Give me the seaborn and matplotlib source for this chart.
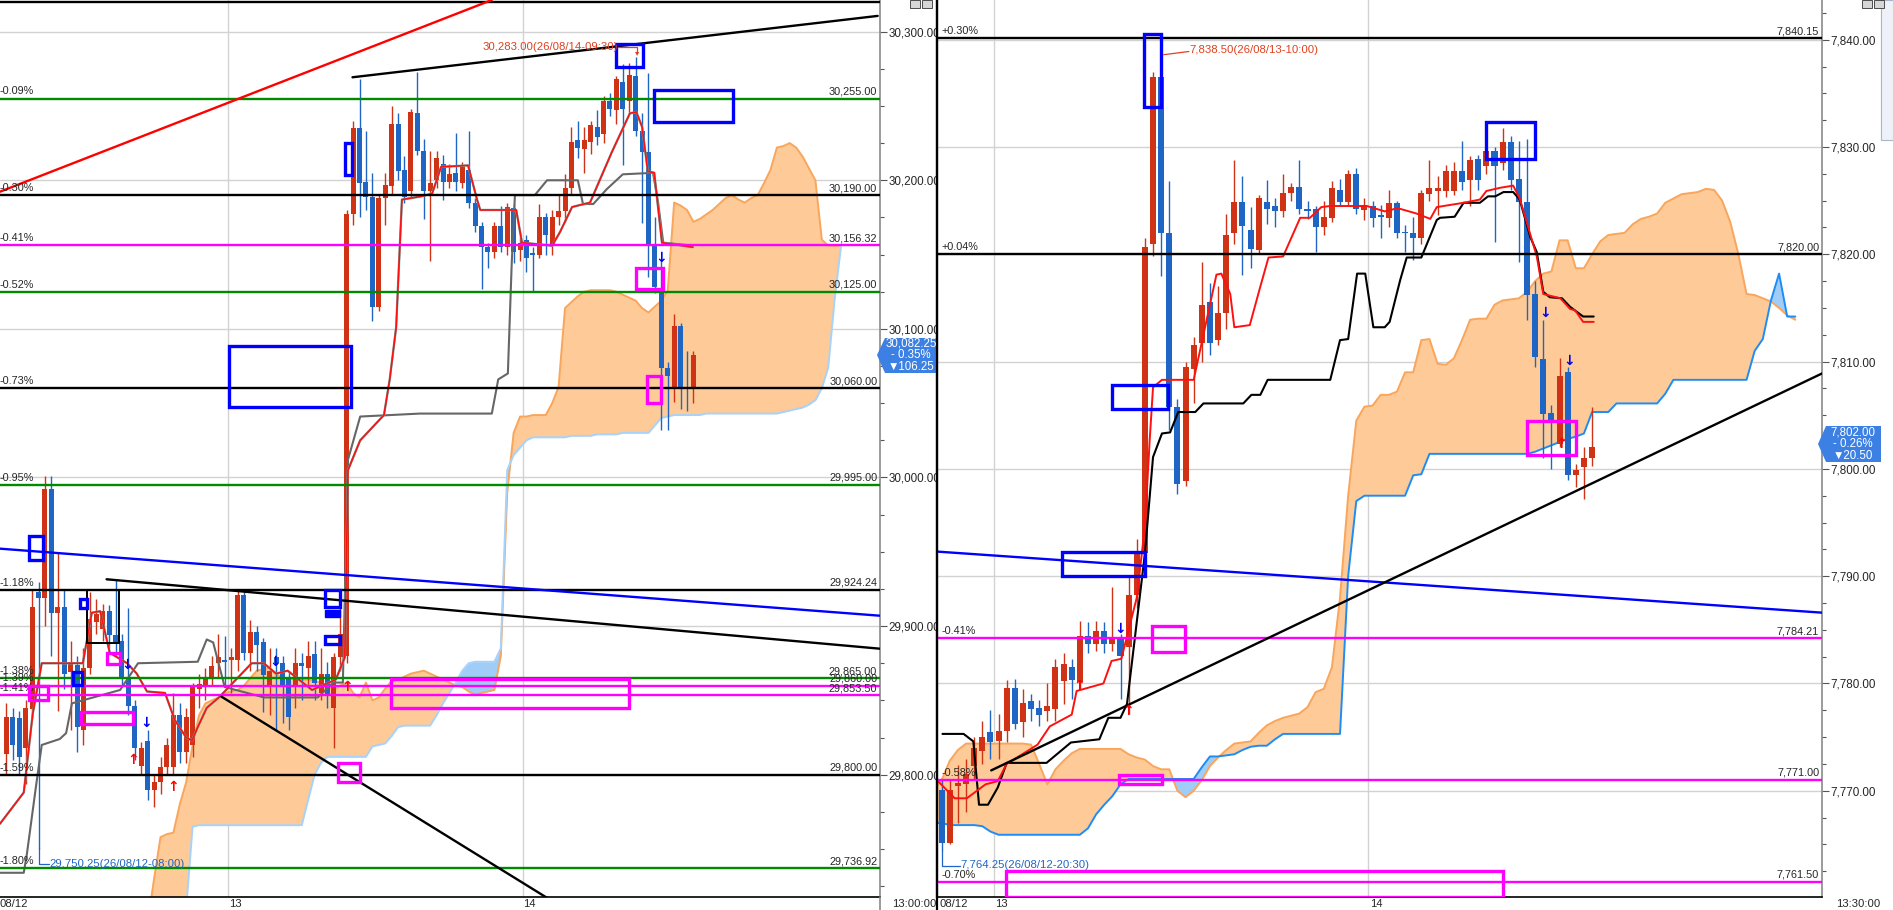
"""Two side-by-side Ichimoku candle panels (30-min bars) with drawn levels, trendlines and boxes."""

import numpy as np
import pandas as pd
import matplotlib
matplotlib.use("Agg")
import matplotlib.pyplot as plt
import matplotlib.transforms as mtransforms
from matplotlib.patches import Rectangle, Polygon
from matplotlib.ticker import MultipleLocator, FuncFormatter
import seaborn as sns

# ---------------------------------------------------------------- left panel data
# bar index 0 = first 30-min bar of the 13th ("13" gridline sits at -0.5)
L_START = -35
l_open = [29814, 29839, 29838, 29818, 29844, 29923, 29919, 29992, 29909, 29913,
          29869, 29874, 29830, 29872, 29903, 29898, 29910, 29894, 29890, 29866,
          29846, 29806, 29823, 29790, 29795, 29805, 29805, 29840, 29815, 29820,
          29858, 29859, 29866, 29875, 29877,
          29877, 29877, 29921, 29882, 29896, 29889, 29860, 29879, 29875, 29866,
          29859, 29875, 29872, 29881, 29855, 29868, 29845, 29879,
          29880, 30177, 30235, 30199, 30189, 30115, 30188, 30196, 30238, 30207,
          30193, 30245, 30220, 30193, 30200, 30211, 30199, 30205, 30198, 30207,
          30185, 30169, 30155, 30152, 30169, 30155, 30181, 30153, 30160, 30151,
          30150, 30175, 30156, 30175, 30179, 30195, 30227, 30221, 30226, 30236,
          30231, 30253, 30247, 30266, 30253, 30270, 30233, 30219, 30156, 30127,
          30074, 30060, 30102, 30061, 30060]
l_high = [29848, 29845, 29843, 29850, 29924, 29930, 30001, 30001, 29950, 29925,
          29890, 29880, 29885, 29923, 29918, 29915, 29914, 29931, 29895, 29912,
          29850, 29822, 29830, 29800, 29812, 29825, 29855, 29848, 29845, 29862,
          29868, 29872, 29880, 29895, 29893,
          29885, 29924, 29925, 29904, 29900, 29892, 29885, 29885, 29880, 29870,
          29885, 29882, 29890, 29890, 29885, 29876, 29882, 29920,
          30180, 30240, 30268, 30233, 30205, 30190, 30205, 30250, 30245, 30216,
          30248, 30273, 30228, 30220, 30220, 30217, 30211, 30232, 30212, 30233,
          30188, 30172, 30158, 30172, 30183, 30185, 30184, 30162, 30163, 30155,
          30184, 30178, 30180, 30190, 30204, 30236, 30240, 30236, 30240, 30247,
          30257, 30259, 30270, 30278, 30279, 30283, 30245, 30272, 30175, 30146,
          30078, 30110, 30104, 30085, 30085]
l_low = [29800, 29810, 29800, 29794, 29838, 29750.25, 29900, 29880, 29843, 29858,
         29830, 29815, 29820, 29868, 29895, 29890, 29885, 29880, 29860, 29840,
         29810, 29800, 29783, 29778, 29787, 29800, 29800, 29808, 29808, 29812,
         29845, 29850, 29860, 29865, 29860,
         29855, 29870, 29877, 29870, 29870, 29842, 29840, 29830, 29835, 29830,
         29845, 29850, 29860, 29850, 29850, 29845, 29818, 29870,
         29875, 30170, 30175, 30180, 30105, 30112, 30170, 30190, 30200, 30185,
         30188, 30217, 30174, 30146, 30195, 30187, 30195, 30193, 30195, 30181,
         30165, 30127, 30141, 30148, 30152, 30150, 30144, 30146, 30138, 30125,
         30148, 30150, 30150, 30170, 30172, 30190, 30215, 30205, 30218, 30224,
         30225, 30243, 30238, 30210, 30245, 30230, 30171, 30135, 30124, 30032,
         30032, 30051, 30046, 30045, 30050]
l_close = [29839, 29820, 29812, 29845, 29913, 29919, 29992, 29909, 29913, 29868,
           29875, 29832, 29872, 29905, 29908, 29910, 29894, 29889, 29865, 29846,
           29818, 29818, 29790, 29795, 29805, 29820, 29840, 29815, 29839, 29859,
           29861, 29866, 29873, 29879, 29876,
           29879, 29921, 29882, 29896, 29887, 29867, 29870, 29875, 29860, 29839,
           29875, 29873, 29880, 29862, 29868, 29854, 29879, 29895,
           30177, 30235, 30198, 30189, 30115, 30188, 30197, 30238, 30206, 30189,
           30246, 30220, 30193, 30198, 30215, 30199, 30204, 30199, 30209, 30185,
           30169, 30155, 30152, 30169, 30155, 30182, 30152, 30158, 30148, 30150,
           30175, 30163, 30175, 30179, 30195, 30226, 30222, 30227, 30237, 30229,
           30253, 30248, 30268, 30248, 30271, 30233, 30219, 30156, 30128, 30074,
           30068, 30102, 30060, 30060, 30082.25]

# cloud (leading spans) per bar, bars -14 .. 95
L_CLOUD_START = -14
l_span_a = [29690, 29700, 29730, 29758, 29760, 29761, 29780, 29795, 29820, 29840, 29848, 29850, 29852, 29855,
            29856, 29857, 29860, 29865, 29870, 29871, 29872, 29868, 29865, 29865,
            29864, 29864, 29864, 29863, 29862, 29860, 29857, 29860, 29862, 29855,
            29852, 29862, 29850, 29852, 29858, 29863, 29864, 29866, 29868, 29869,
            29870, 29868, 29866, 29864, 29862, 29860, 29859, 29856, 29854, 29855,
            29856, 29857, 29880, 29990, 30030, 30041, 30041, 30042, 30042, 30042,
            30050, 30061, 30114, 30118, 30122, 30125, 30126, 30126, 30126, 30126,
            30125, 30123, 30121, 30119, 30114, 30111, 30115, 30119, 30126, 30185,
            30183, 30180, 30172, 30174, 30177, 30180, 30184, 30188, 30190, 30187,
            30185, 30188, 30190, 30198, 30207, 30222, 30223, 30225, 30222, 30216,
            30208, 30200, 30160, 30156, 30156, 30156]
l_span_b = [29680, 29685, 29690, 29695, 29698, 29700, 29705, 29710, 29765, 29766, 29766, 29766, 29766, 29766,
            29766, 29766, 29766, 29766, 29766, 29766, 29766, 29766, 29766, 29766,
            29766, 29766, 29783, 29800, 29808, 29812, 29812, 29812, 29812, 29812,
            29812, 29812, 29819, 29820, 29821, 29826, 29832, 29833, 29833, 29833,
            29833, 29833, 29840, 29848, 29855, 29862, 29870, 29875, 29876, 29876,
            29876, 29876, 29885, 30005, 30015, 30020, 30025, 30027, 30027, 30027,
            30027, 30027, 30027, 30028, 30028, 30028, 30028, 30029, 30029, 30029,
            30029, 30030, 30030, 30030, 30030, 30030, 30035, 30040, 30041, 30042,
            30042, 30042, 30042, 30042, 30043, 30043, 30043, 30043, 30043, 30043,
            30043, 30043, 30043, 30043, 30043, 30043, 30044, 30045, 30046, 30047,
            30049, 30052, 30060, 30074, 30120, 30156]

l_tenkan_x = [-36.0, -32.3, -30.9, -29.5, -23.1, -21.7, -20.4, -18.9, -16.2, -14.7, -13.1, -10.3, -8.8,
              -7.0, -6.1, -5.2, -3.8, -1.9, 3.2, 5.1, 7.0, 8.8, 12.6, 16.3, 17.7, 18.2, 20.1, 23.8,
              24.7, 25.7, 26.6, 29.4, 31.3, 32.7, 36.9, 38.3, 38.8, 44.4, 45.3, 50.0, 51.2, 53.1,
              55.9, 59.3, 62.1, 63.1, 64.0, 64.9, 65.9, 67.1, 71.9]
l_tenkan = [29767, 29788, 29841, 29875, 29875, 29909, 29910, 29882, 29875, 29868, 29856, 29855, 29837,
            29825, 29823, 29832, 29845, 29852, 29875, 29875, 29868, 29870, 29857, 29864, 29879, 30005,
            30025, 30042, 30066, 30101, 30187, 30189, 30191, 30209, 30210, 30187, 30180, 30180, 30158,
            30156, 30165, 30182, 30185, 30219, 30245, 30246, 30236, 30206, 30205, 30158, 30155]
l_kijun_x = [-36.0, -32.3, -31.8, -30.4, -29.5, -26.7, -25.7, -24.8, -17.3, -14.5, -5.2, -3.8, -2.8,
             -1.0, 5.1, 13.5, 15.9, 17.4, 18.2, 20.1, 29.4, 40.6, 41.6, 43.1, 43.7, 44.2, 47.3, 49.2,
             54.0, 54.8, 56.4, 58.5, 61.0, 65.7, 66.5, 67.3, 71.9]
l_kijun = [29734, 29734, 29747, 29792, 29820, 29824, 29828, 29848, 29857, 29875, 29876, 29891, 29889,
           29859, 29852, 29852, 29862, 29862, 30012, 30041, 30043, 30043, 30066, 30070, 30144, 30190,
           30190, 30200, 30200, 30184, 30184, 30194, 30204, 30205, 30185, 30158, 30156]

l_levels = [30255.00, 30190.00, 30156.32, 30125.00, 30060.00, 29995.00, 29924.24,
            29865.00, 29860.00, 29853.50, 29800.00, 29736.92]
l_level_pct = ["-0.09%", "-0.30%", "-0.41%", "-0.52%", "-0.73%", "-0.95%", "-1.18%",
               "-1.38%", "-1.39%", "-1.41%", "-1.59%", "-1.80%"]
l_level_kind = ["g", "k", "m", "g", "k", "g", "k", "g", "m", "m", "k", "g"]

# trendlines: (x0, v0, x1, v1, kind)
l_trends = [(-36.0, 30192.3, 40.6, 30321.3, "r"),
            (18.9, 30269.3, 100.7, 30310.6, "k"),
            (-36.0, 29952.1, 101.0, 29907.0, "b"),
            (-19.4, 29931.5, 101.0, 29884.8, "k"),
            (-1.5, 29852.5, 50.0, 29715.0, "k")]
# boxes: (x0, x1, v0, v1)
l_blue_boxes = [(-0.3, 18.7, 30047.6, 30088.5), (65.8, 78.1, 30239.5, 30260.8),
                (60.0, 64.1, 30276.4, 30291.5), (17.8, 18.9, 30203.6, 30224.9),
                (-31.5, -29.3, 29944.4, 29960.6), (-24.6, -23.3, 29860.4, 29869.3),
                (-23.5, -22.4, 29912.0, 29918.0), (14.6, 16.9, 29913.1, 29924.0),
                (14.6, 16.9, 29887.7, 29893.3)]
l_blue_filled = [(14.6, 16.9, 29905.9, 29910.7)]
l_magenta_boxes = [(63.0, 67.2, 30126.6, 30141.0), (64.8, 66.9, 30050.4, 30068.0),
                   (24.9, 62.0, 29844.7, 29864.6), (16.7, 20.0, 29795.3, 29808.0),
                   (-23.4, -15.3, 29834.1, 29842.4), (-19.4, -17.3, 29874.5, 29881.7),
                   (-31.5, -28.5, 29850.5, 29859.7)]
l_black_boxes = [(-22.4, -17.4, 29888.4, 29924.0)]
l_sig_down = [(67.0, 30147.5), (-16.2, 29874.0), (6.9, 29876.0), (-13.3, 29834.8)]
l_sig_up = [(-15.3, 29809.9), (-9.1, 29791.9), (18.0, 29858.8)]

# ---------------------------------------------------------------- right panel data
R_START = -7
r_open = [7770.1, 7765.1, 7770.4, 7770.6, 7772.3, 7773.7, 7775.5,
          7774.6, 7775.6, 7779.6, 7776.4, 7778.4, 7777.7, 7777.4, 7777.6, 7780.2, 7781.5,
          7780.1, 7784.4, 7783.7, 7784.9, 7783.7, 7784.2, 7783.4, 7788.2, 7792.2, 7821.0,
          7836.5, 7822.0, 7805.8, 7798.9, 7809.3, 7811.7, 7815.6, 7812.0, 7814.5, 7822.0,
          7824.9, 7822.3, 7820.4, 7824.9, 7824.5, 7824.0, 7825.7, 7826.3, 7824.2, 7824.2,
          7822.5, 7823.4, 7826.0, 7824.9, 7827.5, 7824.1, 7824.5, 7823.7, 7823.4, 7824.8,
          7822.1, 7822.0, 7821.5, 7825.6, 7825.9, 7825.9, 7825.9, 7827.8, 7826.9, 7828.9,
          7828.2, 7829.6, 7828.5, 7830.5, 7827.0, 7824.9, 7816.3, 7810.2, 7805.2, 7802.3,
          7809.0, 7799.4, 7800.2, 7801.0]
r_high = [7771.0, 7771.0, 7772.4, 7773.0, 7775.0, 7776.5, 7777.5,
          7777.2, 7780.3, 7780.4, 7779.5, 7779.0, 7778.5, 7780.0, 7782.3, 7782.8, 7782.3,
          7785.8, 7785.7, 7785.8, 7785.7, 7789.0, 7784.6, 7789.9, 7793.5, 7821.5, 7837.0,
          7838.5, 7826.8, 7806.5, 7810.0, 7812.3, 7819.3, 7817.3, 7817.0, 7823.8, 7828.8,
          7827.3, 7824.4, 7825.5, 7826.9, 7825.2, 7827.5, 7826.6, 7828.8, 7825.0, 7824.5,
          7825.0, 7826.8, 7827.0, 7827.9, 7828.0, 7825.2, 7825.0, 7824.6, 7826.0, 7825.0,
          7822.7, 7823.5, 7826.0, 7828.8, 7827.3, 7828.3, 7828.6, 7830.6, 7829.2, 7829.3,
          7830.2, 7830.0, 7831.8, 7831.0, 7830.6, 7830.7, 7817.5, 7813.9, 7806.0, 7810.3,
          7809.5, 7800.5, 7802.0, 7805.8]
r_low = [7764.25, 7765.0, 7767.0, 7768.0, 7771.0, 7772.5, 7773.0,
         7773.0, 7774.5, 7775.8, 7775.0, 7776.5, 7776.0, 7776.5, 7776.5, 7778.1, 7778.6,
         7779.5, 7782.8, 7783.0, 7782.8, 7783.0, 7778.6, 7777.2, 7787.0, 7791.0, 7819.8,
         7818.0, 7803.6, 7797.7, 7798.4, 7806.1, 7810.0, 7810.6, 7811.5, 7813.0, 7821.0,
         7818.1, 7818.7, 7820.0, 7822.8, 7822.5, 7823.5, 7825.0, 7823.8, 7823.3, 7820.2,
         7821.8, 7823.0, 7824.5, 7824.5, 7823.8, 7823.2, 7822.5, 7821.5, 7822.5, 7821.5,
         7820.2, 7819.5, 7821.0, 7825.0, 7823.7, 7825.3, 7825.5, 7826.0, 7824.5, 7826.0,
         7827.5, 7821.1, 7827.9, 7826.0, 7819.3, 7813.9, 7809.5, 7801.0, 7800.0, 7802.0,
         7799.0, 7798.3, 7797.2, 7800.3]
r_close = [7765.1, 7770.1, 7770.7, 7771.6, 7774.0, 7775.0, 7774.5,
           7775.6, 7779.6, 7776.2, 7778.2, 7777.6, 7777.1, 7777.9, 7781.5, 7781.8, 7780.3,
           7784.4, 7783.7, 7784.9, 7783.7, 7784.1, 7782.6, 7788.2, 7792.1, 7820.7, 7836.5,
           7822.0, 7805.8, 7798.6, 7809.5, 7811.5, 7815.3, 7811.7, 7814.5, 7821.8, 7824.9,
           7822.6, 7820.5, 7825.2, 7824.2, 7824.0, 7825.7, 7826.3, 7824.2, 7824.0, 7822.5,
           7823.5, 7826.2, 7824.9, 7827.5, 7824.2, 7824.6, 7823.4, 7823.5, 7824.8, 7822.0,
           7822.0, 7821.5, 7825.7, 7826.2, 7826.2, 7827.8, 7827.8, 7826.7, 7828.8, 7826.9,
           7829.6, 7828.2, 7830.5, 7826.9, 7824.9, 7816.2, 7810.4, 7805.1, 7804.5, 7808.7,
           7799.4, 7799.9, 7801.0, 7802.0]

R_CLOUD_START = -8
r_span_a = [7770.0, 7771.0, 7772.8, 7773.8, 7774.4, 7774.4, 7774.4, 7774.4,
            7774.4, 7774.4, 7774.4, 7774.4, 7774.3, 7772.5, 7770.6, 7772.0, 7772.8, 7773.5,
            7773.9, 7773.9, 7773.9, 7773.9, 7773.9, 7773.9, 7773.4, 7773.1, 7772.9, 7772.3,
            7772.0, 7772.0, 7770.0, 7769.4, 7770.0, 7771.0, 7772.3, 7773.1, 7773.8, 7774.4,
            7774.5, 7774.6, 7775.4, 7776.1, 7776.5, 7776.8, 7777.0, 7777.2, 7777.8, 7779.2,
            7779.5, 7781.5, 7788.0, 7797.5, 7804.5, 7805.8, 7805.9, 7806.9, 7806.9, 7807.2,
            7809.0, 7809.0, 7812.0, 7812.1, 7809.8, 7809.7, 7810.3, 7812.0, 7813.9, 7814.0,
            7814.0, 7815.3, 7815.7, 7815.8, 7815.9, 7816.5, 7817.5, 7818.2, 7818.4, 7821.3,
            7821.3, 7818.7, 7818.7, 7820.0, 7821.2, 7821.8, 7821.9, 7822.0, 7822.8, 7823.3,
            7823.5, 7823.8, 7824.8, 7825.2, 7825.6, 7825.7, 7825.8, 7826.1, 7826.0, 7825.0,
            7823.0, 7820.0, 7816.3, 7816.2, 7815.9, 7815.6, 7815.0, 7814.3, 7813.9]
r_span_b = [7767.0, 7767.0, 7766.8, 7766.8, 7766.8, 7766.8, 7766.7, 7766.2,
            7765.9, 7765.9, 7765.9, 7765.9, 7765.9, 7765.9, 7765.9, 7765.9, 7765.9, 7765.9,
            7765.9, 7766.5, 7767.8, 7768.7, 7769.5, 7770.6, 7771.1, 7771.1, 7771.1, 7771.1,
            7771.1, 7771.1, 7771.1, 7771.1, 7771.1, 7772.2, 7773.2, 7773.2, 7773.3, 7773.4,
            7773.8, 7774.1, 7774.2, 7774.2, 7774.8, 7775.3, 7775.3, 7775.3, 7775.3, 7775.3,
            7775.3, 7775.3, 7775.3, 7790.0, 7797.0, 7797.5, 7797.5, 7797.5, 7797.5, 7797.5,
            7797.5, 7799.4, 7799.5, 7801.4, 7801.4, 7801.4, 7801.4, 7801.4, 7801.4, 7801.4,
            7801.4, 7801.4, 7801.4, 7801.4, 7801.4, 7801.4, 7801.6, 7801.9, 7802.2, 7802.5,
            7802.8, 7803.0, 7803.3, 7805.3, 7805.3, 7805.3, 7806.1, 7806.1, 7806.1, 7806.1,
            7806.1, 7806.1, 7807.0, 7808.3, 7808.3, 7808.3, 7808.3, 7808.3, 7808.3, 7808.3,
            7808.3, 7808.3, 7808.3, 7811.0, 7812.1, 7815.7, 7818.2, 7814.2, 7814.2]

r_tenkan_x = [-7.7, -5.4, -3.9, -1.6, -0.1, 1.0, 4.8, 6.3, 9.0, 9.6, 12.9, 13.9, 15.1, 17.0, 17.8,
              18.2, 18.6, 19.0, 20.1, 24.0, 24.8, 26.8, 27.4, 28.5, 29.0, 30.9, 32.2, 33.2, 35.0,
              37.1, 38.3, 39.7, 40.8, 45.3, 47.5, 49.1, 51.4, 53.1, 53.9, 57.2, 59.2, 60.0, 61.7,
              63.3, 64.1, 66.2, 67.0, 69.1, 70.3, 70.9, 71.9, 73.2]
r_tenkan = [7771.1, 7769.3, 7769.3, 7770.6, 7770.9, 7772.5, 7774.3, 7776.0, 7777.1, 7779.3, 7780.0,
            7782.1, 7782.3, 7788.0, 7793.3, 7797.4, 7802.8, 7807.6, 7808.3, 7808.3, 7811.1, 7818.1,
            7818.2, 7816.3, 7813.2, 7813.4, 7817.0, 7819.7, 7819.8, 7823.4, 7823.4, 7824.4, 7824.5,
            7824.5, 7824.0, 7824.3, 7823.8, 7823.3, 7824.4, 7824.8, 7825.1, 7825.9, 7826.2, 7826.4,
            7825.2, 7819.8, 7816.3, 7815.9, 7814.9, 7814.8, 7813.7, 7813.7]
r_kijun_x = [-6.9, -4.3, -3.1, -2.4, -1.3, -0.1, 1.0, 5.9, 8.9, 12.4, 13.5, 15.0, 15.8, 18.0, 19.0,
             20.1, 21.1, 22.1, 24.2, 25.2, 30.1, 31.1, 32.2, 33.1, 40.8, 42.0, 43.0, 44.1, 45.1,
             46.1, 47.5, 48.1, 49.4, 50.2, 52.0, 53.9, 54.3, 56.1, 57.2, 59.2, 60.2, 61.1, 62.1,
             63.3, 64.1, 65.4, 66.2, 67.0, 67.8, 69.3, 70.3, 71.9, 73.2]
r_kijun = [7775.3, 7775.3, 7774.6, 7768.7, 7768.7, 7770.3, 7772.6, 7772.6, 7774.5, 7774.8, 7776.8,
           7776.8, 7778.1, 7792.1, 7801.1, 7803.3, 7803.4, 7805.3, 7805.3, 7806.1, 7806.1, 7806.9,
           7806.9, 7808.3, 7808.3, 7812.0, 7812.1, 7818.2, 7818.2, 7813.2, 7813.2, 7813.7, 7817.6,
           7819.7, 7819.7, 7823.2, 7823.4, 7823.5, 7824.8, 7824.8, 7825.4, 7825.4, 7825.8, 7825.8,
           7825.1, 7821.6, 7820.2, 7816.5, 7816.0, 7815.9, 7815.1, 7814.2, 7814.2]

r_levels = [7840.15, 7820.00, 7784.21, 7771.00, 7761.50]
r_level_pct = ["+0.30%", "+0.04%", "-0.41%", "-0.58%", "-0.70%"]
r_level_kind = ["k", "k", "m", "m", "m"]
r_trends = [(-7.7, 7792.3, 101.3, 7786.6, "b"),
            (-0.9, 7771.9, 101.3, 7808.9, "k")]
r_blue_boxes = [(17.9, 20.0, 7833.7, 7840.5), (59.9, 66.0, 7828.9, 7832.3),
                (13.9, 20.9, 7805.6, 7807.8), (7.8, 18.0, 7790.0, 7792.3)]
r_magenta_boxes = [(65.0, 71.0, 7801.3, 7804.5), (18.9, 22.9, 7782.9, 7785.4),
                   (14.8, 20.1, 7770.6, 7771.5), (0.9, 62.0, 7760.1, 7762.5)]
r_sig_down = [(15.0, 7785.1), (67.2, 7814.5), (70.2, 7810.1)]
r_sig_up = [(9.9, 7779.8), (15.9, 7777.4), (69.2, 7802.3)]

# ---------------------------------------------------------------- style
sns.set_style("white")
plt.rcParams["font.family"] = ["Liberation Sans", "DejaVu Sans"]

RED = "#cf3214"
BLUE = "#1f66c4"
KIND = {"g": "#008a00", "k": "#000000", "m": "#ff00ff", "b": "#0000ff", "r": "#ff0000"}
CLOUD_FILL = "#fdca98"
CLOUD_EDGE = "#f9a65c"
BLUE_FILL = "#9fcdf7"
FS = 7.8

W, H = 1893, 910
fig = plt.figure(figsize=(W / 100, H / 100), dpi=100)
fig.patch.set_facecolor("white")
ax1 = fig.add_axes([0, 13 / H, 880 / W, 897 / H])
ax2 = fig.add_axes([937 / W, 13 / H, 885 / W, 897 / H])


def draw_cloud(ax, start, a, b, edge_b):
    x = np.arange(start, start + len(a))
    a = np.asarray(a, float)
    b = np.asarray(b, float)
    ax.fill_between(x, a, b, where=a >= b, interpolate=True, color=CLOUD_FILL, lw=0, zorder=1)
    ax.fill_between(x, a, b, where=a < b, interpolate=True, color=BLUE_FILL, lw=0, zorder=1)
    sns.lineplot(x=x, y=a, ax=ax, color=CLOUD_EDGE, lw=1.4, zorder=2)
    sns.lineplot(x=x, y=b, ax=ax, color=edge_b, lw=1.4, zorder=2)


def draw_candles(ax, start, o, h, l, c, width, min_h):
    o, h, l, c = (np.asarray(v, float) for v in (o, h, l, c))
    x = np.arange(start, start + len(o))
    col = np.where(c >= o, RED, BLUE)
    ax.vlines(x, l, h, colors=col, lw=1.0, zorder=3)
    ax.bar(x, np.maximum(np.abs(c - o), min_h), bottom=np.minimum(o, c),
           width=width, color=col, lw=0, zorder=4)


def draw_levels(ax, levels, pcts, kinds, pct_dx):
    tr = mtransforms.blended_transform_factory(ax.transAxes, ax.transData)
    for v, p, k in zip(levels, pcts, kinds):
        ax.axhline(v, color=KIND[k], lw=1.7, zorder=6)
        ax.annotate(p, xy=(0, v), xycoords=tr, xytext=(pct_dx, 1.5), textcoords="offset points",
                    ha="left", va="bottom", fontsize=FS, zorder=7)
        ax.annotate(f"{v:,.2f}", xy=(1, v), xycoords=tr, xytext=(-2, 1.5),
                    textcoords="offset points", ha="right", va="bottom", fontsize=FS, zorder=7)


def draw_boxes(ax, boxes, color, lw, fill=False):
    for x0, x1, v0, v1 in boxes:
        ax.add_patch(Rectangle((x0, v0), x1 - x0, v1 - v0, fill=fill, facecolor=color,
                               edgecolor=color, lw=lw, zorder=8))


def draw_signals(ax, downs, ups):
    for x, v in downs:
        ax.text(x, v, "\u2193", color="#0000ee", fontsize=10, fontweight="bold",
                family="DejaVu Sans", ha="center", va="center", zorder=9)
    for x, v in ups:
        ax.text(x, v, "\u2191", color="#ff0000", fontsize=10, fontweight="bold",
                family="DejaVu Sans", ha="center", va="center", zorder=9)


def style_axis(ax, major, minor, left_spine):
    ax.yaxis.tick_right()
    ax.yaxis.set_major_locator(MultipleLocator(major))
    ax.yaxis.set_minor_locator(MultipleLocator(minor))
    ax.yaxis.set_major_formatter(FuncFormatter(lambda v, p: f"{v:,.2f}"))
    ax.tick_params(axis="y", which="major", length=5, width=0.8, color="#555555",
                   labelsize=8.4, pad=1)
    ax.tick_params(axis="y", which="minor", length=3, width=0.8, color="#555555")
    ax.set_xticks([])
    ax.grid(axis="y", which="major", color="#d2d2d2", lw=1.0, zorder=0)
    ax.set_axisbelow(True)
    for gx in (-0.5, 45.5):
        ax.axvline(gx, color="#d2d2d2", lw=1.0, zorder=0)
    ax.spines["top"].set_visible(False)
    ax.spines["left"].set_visible(left_spine)
    ax.spines["left"].set_color("black")
    ax.spines["left"].set_linewidth(1.6)
    ax.spines["right"].set_color("#8a8a8a")
    ax.spines["right"].set_linewidth(1.2)
    ax.spines["bottom"].set_color("black")
    ax.spines["bottom"].set_linewidth(1.2)
    ax.set_xlabel("")
    ax.set_ylabel("")


# ---------------------------------------------------------------- left panel
draw_cloud(ax1, L_CLOUD_START, l_span_a, l_span_b, "#a6d2fb")
draw_candles(ax1, L_START, l_open, l_high, l_low, l_close, 0.78, 0.9)
tenk = pd.DataFrame({"x": l_tenkan_x, "v": l_tenkan})
kij = pd.DataFrame({"x": l_kijun_x, "v": l_kijun})
sns.lineplot(data=kij, x="x", y="v", ax=ax1, color="#666666", lw=1.5, sort=False, zorder=5)
sns.lineplot(data=tenk, x="x", y="v", ax=ax1, color="#6aaeaa", lw=1.7, sort=False, zorder=5)
sns.lineplot(data=tenk, x="x", y="v", ax=ax1, color="#ff1010", lw=1.2, sort=False, zorder=5)
ax1.axhline(30320, color="black", lw=1.7, zorder=6)
draw_levels(ax1, l_levels, l_level_pct, l_level_kind, 0)
for x0, v0, x1, v1, k in l_trends:
    ax1.plot([x0, x1], [v0, v1], color=KIND[k], lw=1.7, zorder=6)
draw_boxes(ax1, l_black_boxes, "black", 1.4)
draw_boxes(ax1, l_blue_boxes, "#0000ff", 2.4)
draw_boxes(ax1, l_blue_filled, "#0000ff", 1.0, fill=True)
draw_boxes(ax1, l_magenta_boxes, "#ff00ff", 2.4)
draw_signals(ax1, l_sig_down, l_sig_up)

# high / low markers
ax1.plot([60.3, 63.2, 63.2], [30289.5, 30289.5, 30285.5], color="#e04020", lw=0.9, zorder=9)
ax1.text(63.2, 30286, "\u25be", color="#e04020", fontsize=6, family="DejaVu Sans",
         ha="center", va="center", zorder=9)
ax1.text(60.2, 30289.5, "30,283.00(26/08/14-09:30)", color="#e04020", fontsize=FS + 0.4,
         ha="right", va="center", zorder=9)
ax1.plot([-30.0, -30.0, -28.4], [29751, 29740, 29740], color="#1f66c4", lw=0.9, zorder=9)
ax1.text(-28.3, 29740, "29,750.25(26/08/12-08:00)", color="#1f66c4", fontsize=FS + 0.4,
         ha="left", va="center", zorder=9)

style_axis(ax1, 100, 25, False)
ax1.set_xlim(-36.0, 101.06)
ax1.set_ylim(29717.7, 30321.3)

# ---------------------------------------------------------------- right panel
draw_cloud(ax2, R_CLOUD_START, r_span_a, r_span_b, "#1f8cf5")
draw_candles(ax2, R_START, r_open, r_high, r_low, r_close, 0.74, 0.12)
rt = pd.DataFrame({"x": r_tenkan_x, "v": r_tenkan})
rk = pd.DataFrame({"x": r_kijun_x, "v": r_kijun})
sns.lineplot(data=rk, x="x", y="v", ax=ax2, color="black", lw=1.5, sort=False, zorder=5)
sns.lineplot(data=rt, x="x", y="v", ax=ax2, color="#ff1010", lw=1.4, sort=False, zorder=5)
draw_levels(ax2, r_levels, r_level_pct, r_level_kind, 3)
for x0, v0, x1, v1, k in r_trends:
    ax2.plot([x0, x1], [v0, v1], color=KIND[k], lw=1.7, zorder=6)
draw_boxes(ax2, r_blue_boxes, "#0000ff", 2.4)
draw_boxes(ax2, r_magenta_boxes, "#ff00ff", 2.4)
draw_signals(ax2, r_sig_down, r_sig_up)

ax2.plot([20.3, 23.4], [7838.6, 7838.9], color="#e04020", lw=0.9, zorder=9)
ax2.text(23.5, 7839.0, "7,838.50(26/08/13-10:00)", color="#e04020", fontsize=FS + 0.4,
         ha="left", va="center", zorder=9)
ax2.plot([-7.0, -7.0, -4.8], [7764.3, 7763.0, 7763.0], color="#1f66c4", lw=0.9, zorder=9)
ax2.text(-4.7, 7763.1, "7,764.25(26/08/12-20:30)", color="#1f66c4", fontsize=FS + 0.4,
         ha="left", va="center", zorder=9)

style_axis(ax2, 10, 2.5, True)
ax2.set_xlim(-7.57, 101.28)
ax2.set_ylim(7760.1, 7843.7)


# ---------------------------------------------------------------- figure furniture
def fx(px):
    return px / W


def fy(py):
    return 1 - py / H


# time labels under both panels
for px, s in [(0, "08/12"), (229, "13"), (523, "14"), (892, "13:00:00"),
              (940, "08/12"), (995, "13"), (1370, "14"), (1836, "13:30:00")]:
    fig.text(fx(px), fy(904), s, fontsize=FS + 0.3, ha="left", va="center")

# last-price tags
for pts, cx, cy, lines in [
    ([(877, 355), (885, 338), (936, 338), (936, 373), (885, 373)], 911, 355,
     ["30,082.25", "- 0.35%", "\u25bc106.25"]),
    ([(1818, 444), (1826, 426), (1881, 426), (1881, 462), (1826, 462)], 1853, 444,
     ["7,802.00", "- 0.26%", "\u25bc20.50"]),
]:
    fig.add_artist(Polygon([(fx(a), fy(b)) for a, b in pts], closed=True,
                           transform=fig.transFigure, facecolor="#3c80e4", edgecolor="none"))
    for k, s in enumerate(lines):
        fig.text(fx(cx), fy(cy - 11.5 + 11.5 * k), s, color="white", fontsize=8.3,
                 family=["Liberation Sans", "DejaVu Sans"], ha="center", va="center")

# panel separator and side toolbar
fig.add_artist(plt.Line2D([fx(937), fx(937)], [0, 1], transform=fig.transFigure,
                          color="black", lw=1.6))
fig.add_artist(plt.Line2D([fx(880), fx(880)], [0, fy(897)], transform=fig.transFigure,
                          color="#8a8a8a", lw=1.2))
fig.add_artist(Rectangle((fx(1881), fy(140)), fx(12), 140 / H, transform=fig.transFigure,
                         facecolor="#eef2f8", edgecolor="#a9b6c9", lw=0.8))
for px in (910, 922, 1862, 1874):
    fig.add_artist(Rectangle((fx(px), fy(8)), fx(10), 8 / H, transform=fig.transFigure,
                             facecolor="#d6d6d6", edgecolor="#333333", lw=0.6))

fig.savefig("out.png", dpi=100, facecolor="white")
